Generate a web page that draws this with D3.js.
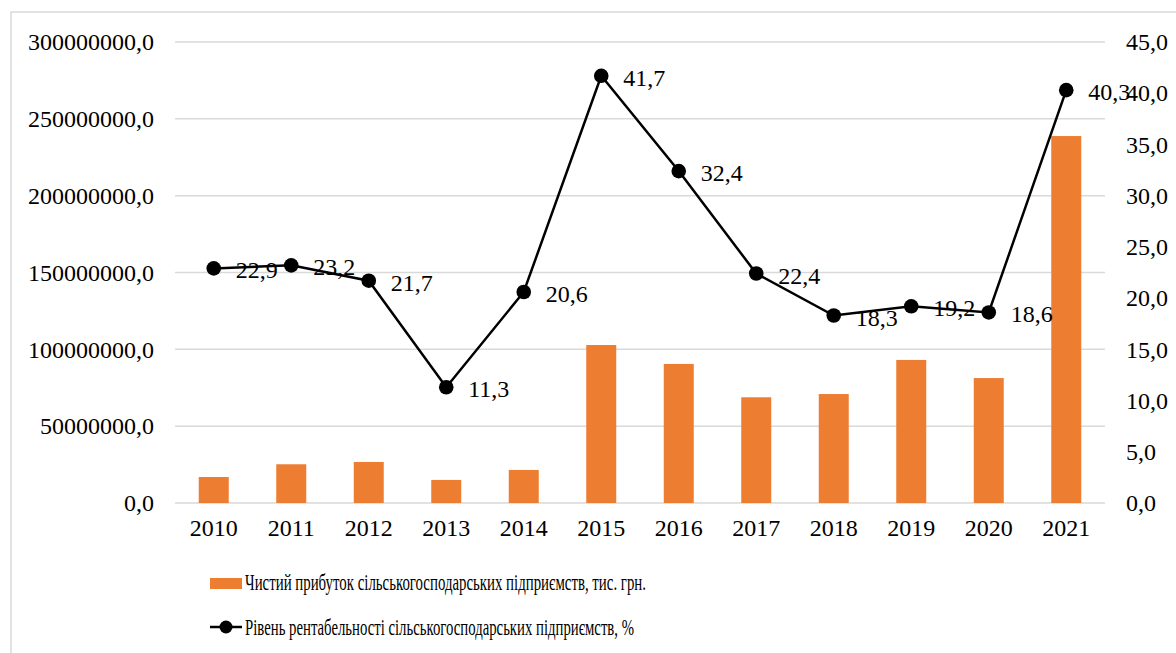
<!DOCTYPE html>
<html><head><meta charset="utf-8">
<script src="https://cdn.jsdelivr.net/npm/d3@7"></script>
</head>
<body style="margin:0;padding:0;background:#fff">
<svg id="c" width="1176" height="653" style="display:block"></svg>
<script>
const years = ["2010","2011","2012","2013","2014","2015","2016","2017","2018","2019","2020","2021"];
const profit = [16900000,25200000,26700000,15000000,21500000,102800000,90500000,68800000,70900000,93100000,81300000,238800000];
const rentability = [22.9,23.2,21.7,11.3,20.6,41.7,32.4,22.4,18.3,19.2,18.6,40.3];
const leftTicks = [0,50000000,100000000,150000000,200000000,250000000,300000000];
const rightTicks = [0,5,10,15,20,25,30,35,40,45];
const legendBar = "Чистий прибуток сільськогосподарських підприємств, тис. грн.";
const legendLine = "Рівень рентабельності сільськогосподарських підприємств, %";

const FONT = '"Liberation Serif", Tinos, "Times New Roman", serif';
const svg = d3.select("#c");
const L = 175, R = 1105, T = 42, B = 503;
const fmt = v => d3.format(".1f")(v).replace(".", ",");

svg.append("rect").attr("x",11).attr("y",12).attr("width",1200).attr("height",700)
  .attr("fill","none").attr("stroke","#d9d9d9").attr("stroke-width",1.5);

const x = d3.scaleBand().domain(years).range([L,R]).paddingInner(0.613).paddingOuter(0.3065);
const yL = d3.scaleLinear().domain([0,300000000]).range([B,T]);
const yR = d3.scaleLinear().domain([0,45]).range([B,T]);

svg.append("g").selectAll("line").data(leftTicks).join("line")
  .attr("x1",L).attr("x2",R).attr("y1",d=>yL(d)).attr("y2",d=>yL(d))
  .attr("stroke","#d9d9d9").attr("stroke-width",1.5);

function styleAxis(g){
  g.select(".domain").remove();
  g.selectAll("text").style("font-family",FONT).style("font-size","24px").attr("fill","#000");
}
const ax1 = svg.append("g").attr("transform",`translate(${L},0)`)
  .call(d3.axisLeft(yL).tickValues(leftTicks).tickFormat(fmt).tickSize(0).tickPadding(21));
styleAxis(ax1);
const ax2 = svg.append("g").attr("transform",`translate(${R},0)`)
  .call(d3.axisRight(yR).tickValues(rightTicks).tickFormat(fmt).tickSize(0).tickPadding(21));
styleAxis(ax2);
const ax3 = svg.append("g").attr("transform",`translate(0,${B})`)
  .call(d3.axisBottom(x).tickSize(0).tickPadding(16));
styleAxis(ax3);

svg.append("g").selectAll("rect").data(profit).join("rect")
  .attr("x",(d,i)=>x(years[i])).attr("width",x.bandwidth())
  .attr("y",d=>yL(d)).attr("height",d=>B-yL(d))
  .attr("fill","#ED7D31");

const cx = i => x(years[i]) + x.bandwidth()/2;
const line = d3.line().x((d,i)=>cx(i)).y(d=>yR(d));
svg.append("path").datum(rentability).attr("d",line)
  .attr("fill","none").attr("stroke","#000").attr("stroke-width",2.5);
svg.append("g").selectAll("circle").data(rentability).join("circle")
  .attr("cx",(d,i)=>cx(i)).attr("cy",d=>yR(d)).attr("r",7.3).attr("fill","#000");
svg.append("g").selectAll("text").data(rentability).join("text")
  .attr("x",(d,i)=>cx(i)+22).attr("y",d=>yR(d)+10)
  .style("font-family",FONT).style("font-size","24px").attr("fill","#000").text(fmt);

const lg = svg.append("g");
lg.append("rect").attr("x",210).attr("y",578).attr("width",32).attr("height",11).attr("fill","#ED7D31");
lg.append("text").attr("x",245).attr("y",590).style("font-family",FONT).style("font-size","23px")
  .attr("textLength",401).attr("lengthAdjust","spacingAndGlyphs").text(legendBar);
lg.append("line").attr("x1",210).attr("x2",242).attr("y1",627).attr("y2",627).attr("stroke","#000").attr("stroke-width",2.5);
lg.append("circle").attr("cx",226).attr("cy",627).attr("r",6.5).attr("fill","#000");
lg.append("text").attr("x",245).attr("y",635).style("font-family",FONT).style("font-size","23px")
  .attr("textLength",389).attr("lengthAdjust","spacingAndGlyphs").text(legendLine);
</script>
</body></html>
